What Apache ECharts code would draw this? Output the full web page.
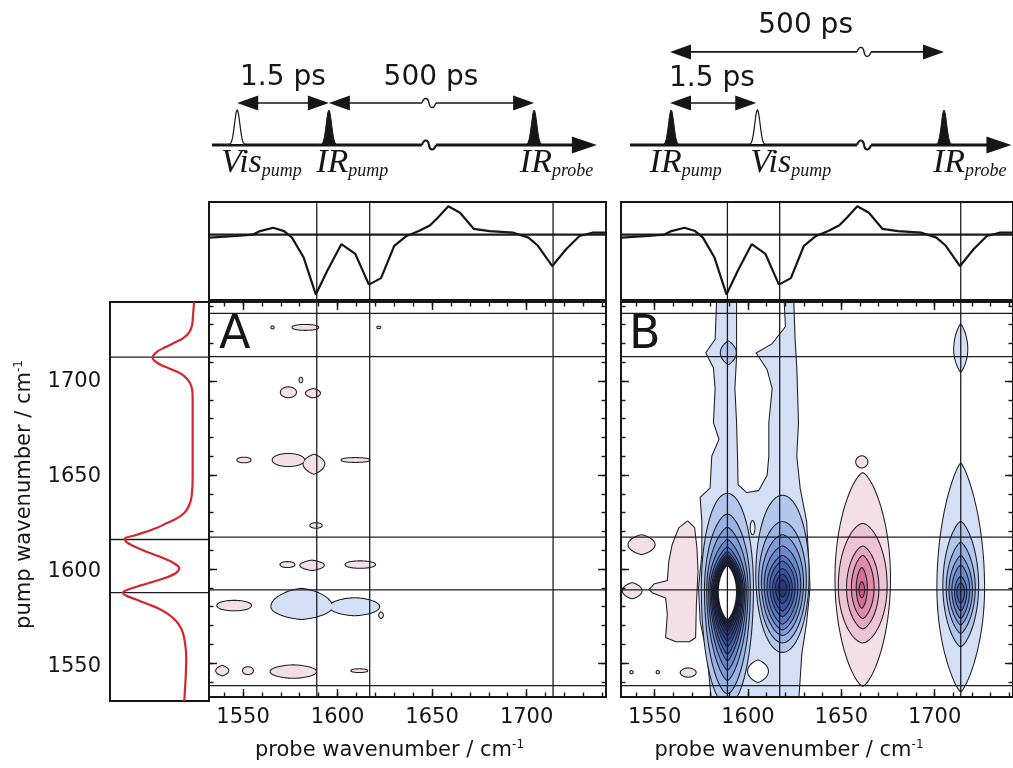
<!DOCTYPE html>
<html>
<head>
<meta charset="utf-8">
<title>2D-IR maps</title>
<script src="https://cdn.jsdelivr.net/npm/echarts@6/dist/echarts.min.js"></script>
<style>
  html, body { margin: 0; padding: 0; background: #fff; }
  #main { width: 1013px; height: 768px; }
</style>
</head>
<body>
<div id="main"></div>
<script>
// wavenumber scale shared by the maps and the side spectra (cm-1)
var waveMin = 1532, waveMax = 1742;
var waveLabels = [1550, 1600, 1650, 1700];
var waveMinor = [1540, 1550, 1560, 1570, 1580, 1590, 1600, 1610, 1620, 1630, 1640,
                 1650, 1660, 1670, 1680, 1690, 1700, 1710, 1720, 1730, 1740];

// guide lines
var probeMarks = [1589, 1617, 1714];
var pumpMarks = [1589, 1617, 1713];
var pumpEdges = [1538, 1736];

// top: transient spectrum (probe axis)
var specProbe = [1532, 1546.6, 1555, 1559, 1566, 1571.7, 1575.9, 1582, 1588.5, 1594.7, 1602,
                 1609.4, 1616.6, 1623, 1630, 1636.5, 1643, 1649, 1653, 1658.6, 1664.8, 1672,
                 1680.4, 1693, 1701, 1706, 1713.6, 1721, 1728, 1734.7, 1742];
var specDiff = [-0.09, -0.04, 0, 0.11, 0.21, 0.11, -0.09, -0.69, -1.83, -1.09, -0.29,
                -0.59, -1.53, -1.33, -0.34, -0.04, 0.11, 0.29, 0.52, 0.87, 0.67, 0.18,
                0.11, 0.06, -0.09, -0.34, -0.96, -0.44, -0.04, 0.06, 0.06];

// left: IR absorption (pump axis)
var irPump = [1742, 1736, 1730, 1726, 1723, 1720.5, 1718, 1716, 1714, 1712.6, 1711, 1709,
              1707, 1705, 1703, 1700, 1696, 1690, 1670, 1650, 1640, 1635, 1631, 1628,
              1625.5, 1623, 1621, 1619, 1617.6, 1616, 1614, 1611, 1608, 1605, 1602, 1599.5,
              1597, 1595, 1593, 1591, 1589, 1587.5, 1585.5, 1583, 1581, 1578, 1574, 1570,
              1565, 1555, 1545, 1532];
var irAbs = [0.15, 0.16, 0.17, 0.2, 0.26, 0.35, 0.45, 0.52, 0.56, 0.57, 0.55, 0.49,
             0.4, 0.31, 0.25, 0.2, 0.17, 0.165, 0.165, 0.165, 0.175, 0.2, 0.25, 0.33,
             0.43, 0.53, 0.64, 0.76, 0.85, 0.84, 0.78, 0.65, 0.5, 0.37, 0.3, 0.33,
             0.43, 0.55, 0.68, 0.8, 0.87, 0.84, 0.74, 0.62, 0.52, 0.42, 0.33, 0.28,
             0.25, 0.23, 0.235, 0.25];

// contours: [probe, pump, half width, half height up, half height down, shape, level, depth]
var mapA = [
  [1565.6, 1728.5, 0.6, 0.5, 0.5, 0.5, 1, 1],
  [1583.0, 1728.5, 6.8, 1.3, 1.3, 0.5, 1, 1],
  [1621.8, 1728.5, 0.8, 0.4, 0.4, 0.5, 1, 1],
  [1574.0, 1694.0, 4.0, 2.6, 2.6, 0.5, 1, 1],
  [1587.0, 1693.5, 3.7, 2.2, 2.2, 0.8, 1, 1],
  [1580.6, 1700.5, 0.7, 1.2, 1.2, 0.6, 1, 1],
  [1550.5, 1658.0, 3.5, 1.2, 1.2, 0.5, 1, 1],
  [1574.0, 1658.0, 8.3, 3.2, 3.2, 0.5, 1, 1],
  [1587.5, 1656.0, 5.5, 4.8, 5.3, 0.9, 1, 1],
  [1609.5, 1658.0, 7.4, 1.0, 1.0, 0.5, 1, 1],
  [1588.6, 1623.2, 3.0, 1.2, 1.2, 0.5, 1, 1],
  [1573.5, 1602.4, 3.7, 1.3, 1.3, 0.5, 1, 1],
  [1586.5, 1602.0, 6.2, 2.5, 2.5, 0.9, 1, 1],
  [1612.0, 1602.4, 7.8, 1.7, 1.7, 0.5, 1, 1],
  [1545.3, 1580.6, 8.9, 2.5, 2.5, 0.5, 1, 1],
  [1581.0, 1580.0, 16.0, 9.5, 6.5, 0.7, -1, 1],
  [1609.0, 1580.0, 13.0, 4.5, 4.5, 0.6, -1, 1],
  [1623.0, 1575.5, 1.0, 1.5, 1.5, 0.8, 1, 1],
  [1539.0, 1546.0, 3.2, 2.5, 2.5, 0.9, 1, 1],
  [1552.6, 1546.0, 2.6, 1.8, 1.8, 0.5, 1, 1],
  [1576.6, 1545.5, 12.0, 3.3, 3.3, 0.6, 1, 1],
  [1611.5, 1546.0, 4.2, 0.7, 0.7, 0.5, 1, 1]
];

var mapB = [
  // bleach at 1589
  [1589, 1590, 13.7, 50, 62, 0.5, -2, 2],
  [1589, 1589, 12.0, 40, 55, 0.6, -3, 3],
  [1589, 1589, 10.8, 33, 48, 0.7, -4, 4],
  [1589, 1588.5, 9.8, 27, 42, 0.75, -5, 5],
  [1589, 1588.5, 9.0, 23, 37, 0.8, -6, 6],
  [1589, 1588, 8.3, 21, 33, 0.8, -7, 7],
  [1589, 1588, 7.7, 19.5, 29, 0.8, -8, 8],
  [1589, 1588, 7.2, 18.5, 26, 0.8, -9, 9],
  [1589, 1588, 6.7, 17.5, 23, 0.8, -10, 10],
  [1589, 1588, 6.2, 16.5, 20.5, 0.8, -11, 11],
  [1589, 1588, 5.8, 15.8, 18.5, 0.8, -12, 12],
  [1589, 1588, 5.4, 15.0, 17, 0.8, -13, 13],
  [1589, 1588, 5.0, 14.5, 15.8, 0.8, -14, 14],
  [1589, 1588, 4.6, 13.5, 14.5, 0.75, 0, 16],
  [1589.5, 1715, 4.0, 6, 6, 0.9, -2, 2],
  // bleach at 1617
  [1618.5, 1597, 14.0, 42, 41, 0.5, -2, 2],
  [1618.5, 1594, 12.5, 31, 33, 0.55, -3, 3],
  [1618.5, 1593, 11.0, 25, 28, 0.6, -4, 4],
  [1618.5, 1592, 9.5, 20, 24, 0.65, -5, 5],
  [1618.5, 1591, 8.0, 16, 20, 0.7, -6, 6],
  [1618.5, 1591, 6.5, 13, 16, 0.7, -7, 7],
  [1618.5, 1590, 5.0, 10, 12, 0.7, -8, 8],
  [1618.5, 1590, 3.5, 7, 8, 0.7, -9, 9],
  [1618.5, 1590, 2.0, 4, 4.5, 0.7, -10, 10],
  [1605.4, 1545.7, 5.3, 5.7, 5.7, 0.8, 0, 1.5],
  [1602.5, 1622, 1.0, 3.5, 3.5, 0.6, 0, 1.5],
  // bleach at 1713
  [1714, 1590, 12.5, 66, 55, 0.8, -1, 1],
  [1714, 1717, 3.5, 13, 12, 0.9, -1, 1],
  [1714, 1591, 9.3, 34, 32, 0.7, -2, 2],
  [1714, 1590, 7.5, 24, 24, 0.75, -3, 3],
  [1714, 1589, 6.0, 18, 18.5, 0.8, -4, 4],
  [1714, 1589, 4.5, 13, 15, 0.8, -5, 5],
  [1714, 1588, 3.0, 8, 10, 0.8, -6, 6],
  [1714, 1588, 1.8, 4.5, 6, 0.8, -7, 7],
  // induced absorption at 1660
  [1661.5, 1595, 14.6, 56, 57, 0.7, 1, 1],
  [1661, 1657, 3.0, 3, 3, 0.6, 1, 1],
  [1661.5, 1591, 12.8, 33, 30, 0.6, 2, 2],
  [1661.5, 1590, 8.4, 22, 21.5, 0.65, 3, 3],
  [1661.5, 1590, 5.8, 17, 16, 0.7, 4, 4],
  [1661, 1590, 2.7, 10.5, 10.5, 0.7, 5, 5],
  [1661, 1589, 1.2, 4, 4, 0.7, 6, 6],
  // small features left
  [1543, 1613, 7, 5, 5, 0.8, 1, 1],
  [1538, 1588.5, 5, 4, 4, 0.8, 1, 1],
  [1568, 1545, 4, 2.2, 2.2, 0.6, 1, 1],
  [1537.6, 1545.2, 0.6, 0.6, 0.6, 0.5, 1, 1],
  [1551.7, 1545.2, 0.6, 0.6, 0.6, 0.5, 1, 1]
];

// irregular outlines in map B: [probe, pump] vertices
var blueColumnsB = [[1583.6, 1745], [1582.7, 1722], [1577.7, 1715], [1581.8, 1707], [1582.7, 1696],
  [1581.8, 1678], [1584.8, 1669], [1580.9, 1660], [1580, 1643], [1574.7, 1638], [1575.6, 1625],
  [1575.6, 1608], [1573.8, 1590], [1574.7, 1572], [1578.3, 1555], [1580.9, 1528],
  [1626.8, 1528], [1628.6, 1555], [1631.2, 1572], [1633, 1590], [1632.1, 1608], [1631.2, 1625],
  [1627.7, 1643], [1625.9, 1660], [1626.8, 1678], [1625.9, 1707], [1625, 1722], [1624.2, 1745]];
var gapB = [[1594.2, 1745], [1619, 1745], [1619.8, 1729], [1612.7, 1720], [1604, 1715], [1610, 1706],
  [1612.7, 1696], [1610.9, 1678], [1610.9, 1660], [1610, 1650], [1605.6, 1642], [1599.4, 1641],
  [1595, 1645], [1594.7, 1660], [1594.2, 1678], [1593.3, 1696], [1594.2, 1713], [1594.2, 1730]];
var pinkLeftB = [[1567.7, 1625.3], [1571.2, 1621.8], [1572.4, 1611.2], [1573, 1599], [1572.1, 1581.3],
  [1571.7, 1563.7], [1568.5, 1561.6], [1561.5, 1561.6], [1556.2, 1563.7], [1557.1, 1576],
  [1556.2, 1584.8], [1549.1, 1587.5], [1547.4, 1589.2], [1550, 1591.9], [1557.1, 1593.7],
  [1557.9, 1604.2], [1559.7, 1613], [1563.2, 1621.8]];

// pulse sequences (time in arbitrary units across each panel)
var seqAxisA = [0.75, 97.7, 55.4];
var seqAxisB = [2.3, 99.6, 62.0];
var pulseTimeA = [7.1, 30.2, 81.9];
var pulseIrA = [0, 1, 1];
var pulseTimeB = [12.8, 34.8, 82.4];
var pulseIrB = [1, 0, 1];
var tagPosA = [3.0, 27.0, 78.3];
var tagNameA = ['Vis', 'IR', 'IR'];
var tagSubA = ['pump', 'pump', 'probe'];
var tagPosB = [7.3, 33.0, 79.6];
var tagNameB = ['IR', 'Vis', 'IR'];
var tagSubB = ['pump', 'pump', 'probe'];
// from, to, height, break (-1 none), text x, text height
var delayA = [[7.1, 30.2, 1.2, -1, 18.6, 1.93], [30.2, 81.9, 1.2, 55.4, 55.9, 1.93]];
var delayB = [[12.5, 34.5, 1.2, -1, 23.2, 1.9], [12.5, 82.4, 2.66, 62.0, 47.1, 3.42]];
var delayText = ['1.5 ps', '500 ps'];

var ink = '#161616';
var lineInk = '#1c1c26';
var negColors = ['#ffffff', '#d3dff4', '#b3c7ec', '#98b2e3', '#7f9dd9', '#6989cd', '#5676c0',
                 '#4664b1', '#3953a0', '#2e448e', '#26387c', '#1f2e6b', '#1a275d', '#162151', '#131c46'];
var posColors = ['#ffffff', '#f5dfe7', '#efc4d2', '#e7a8bd', '#de8ca7', '#d47192', '#c8587e'];

function levelColor(lev) {
  if (lev > 0) return posColors[Math.min(lev, posColors.length - 1)];
  if (lev < 0) return negColors[Math.min(-lev, negColors.length - 1)];
  return '#ffffff';
}

function contourPair(pts, lev, depth) {
  var z = Math.round(depth * 10);
  return {
    type: 'group',
    children: [
      {type: 'polygon', z2: z, shape: {points: pts},
       style: {fill: 'none', stroke: lineInk, lineWidth: 2.1, lineJoin: 'round'}},
      {type: 'polygon', z2: z + 1, shape: {points: pts},
       style: {fill: levelColor(lev), stroke: 'none'}}
    ]
  };
}

function lensItem(params, api) {
  var cx = api.value(0), cy = api.value(1), rx = api.value(2);
  var up = api.value(3), dn = api.value(4), q = api.value(5);
  var pts = [];
  for (var k = 0; k < 96; k++) {
    var t = k / 96 * 2 * Math.PI;
    var c = Math.cos(t), s = Math.sin(t);
    var dx = rx * (c < 0 ? -1 : 1) * Math.pow(Math.abs(c), 2 * q);
    var dy = s > 0 ? up * s : dn * s;
    pts.push(api.coord([cx + dx, cy + dy]));
  }
  return contourPair(pts, api.value(6), api.value(7));
}

function outlineSeries(axis, verts, lev, depth) {
  return {
    type: 'custom', xAxisIndex: axis, yAxisIndex: axis, clip: true, z: 2,
    data: verts,
    renderItem: function (params, api) {
      if (params.dataIndex !== 0) return null;
      var pts = verts.map(function (v) { return api.coord(v); });
      return contourPair(pts, lev, depth);
    }
  };
}

function guideItem(params, api) {
  var cs = params.coordSys, dir = api.value(0), v = api.value(1), w = api.value(2);
  if (dir === 2) {
    return {type: 'rect', shape: {x: cs.x, y: cs.y, width: cs.width, height: cs.height},
            style: {fill: 'none', stroke: ink, lineWidth: w}};
  }
  var p = api.coord([v, v]);
  if (dir === 0) {
    return {type: 'line', shape: {x1: p[0], y1: cs.y, x2: p[0], y2: cs.y + cs.height},
            style: {stroke: lineInk, lineWidth: w}};
  }
  return {type: 'line', shape: {x1: cs.x, y1: p[1], x2: cs.x + cs.width, y2: p[1]},
          style: {stroke: lineInk, lineWidth: w}};
}

function guideSeries(xi, yi, rows) {
  return {type: 'custom', xAxisIndex: xi, yAxisIndex: yi, z: 3, data: rows, renderItem: guideItem};
}

function wiggle(x, y, w) {
  return [
    {type: 'rect', shape: {x: x - 7, y: y - 3, width: 14, height: 6}, style: {fill: '#fff'}},
    {type: 'bezierCurve', shape: {x1: x - 7, y1: y, cpx1: x - 5, cpy1: y - 6, cpx2: x - 1, cpy2: y - 6, x2: x, y2: y},
     style: {stroke: ink, lineWidth: w, fill: 'none'}},
    {type: 'bezierCurve', shape: {x1: x, y1: y, cpx1: x + 1, cpy1: y + 6, cpx2: x + 5, cpy2: y + 6, x2: x + 7, y2: y},
     style: {stroke: ink, lineWidth: w, fill: 'none'}}
  ];
}

function seqSeries(axis, line, times, isIr, tagPos, tagName, tagSub, delays) {
  var list = [];
  list.push({
    type: 'custom', xAxisIndex: axis, yAxisIndex: axis, z: 3, data: [line],
    renderItem: function (params, api) {
      var a = api.coord([api.value(0), 0]), b = api.coord([api.value(1), 0]);
      var k = api.coord([api.value(2), 0]);
      var y = a[1];
      var kids = [
        {type: 'line', shape: {x1: a[0], y1: y, x2: b[0] - 20, y2: y}, style: {stroke: ink, lineWidth: 3}},
        {type: 'polygon', shape: {points: [[b[0], y], [b[0] - 25, y - 8.5], [b[0] - 25, y + 8.5]]}, style: {fill: ink}}
      ];
      return {type: 'group', children: kids.concat(wiggle(k[0], y, 2.2))};
    }
  });
  list.push({
    type: 'custom', xAxisIndex: axis, yAxisIndex: axis, z: 4,
    data: times.map(function (t, i) { return [t, isIr[i]]; }),
    renderItem: function (params, api) {
      var base = api.coord([api.value(0), 0]), top = api.coord([api.value(0), 1]);
      var h = base[1] - top[1], pts = [];
      for (var i = -14; i <= 14; i++) {
        var dx = i * 0.55;
        pts.push([base[0] + dx, base[1] - h * Math.exp(-dx * dx / 14)]);
      }
      var ir = api.value(1) === 1;
      return {type: 'polygon', shape: {points: pts},
              style: ir ? {fill: ink, stroke: ink, lineWidth: 1} : {fill: '#fff', stroke: ink, lineWidth: 1.2}};
    }
  });
  list.push({
    type: 'custom', xAxisIndex: axis, yAxisIndex: axis, z: 4,
    data: tagPos.map(function (x) { return [x, -0.03]; }),
    renderItem: function (params, api) {
      var p = api.coord([api.value(0), api.value(1)]);
      var i = params.dataIndex;
      return {type: 'text', style: {
        x: p[0], y: p[1], align: 'left', verticalAlign: 'top',
        text: '{m|' + tagName[i] + '}{s|' + tagSub[i] + '}',
        rich: {
          m: {fontFamily: 'Liberation Serif', fontStyle: 'italic', fontSize: 34, lineHeight: 34, fill: ink},
          s: {fontFamily: 'Liberation Serif', fontStyle: 'italic', fontSize: 18, lineHeight: 10,
              verticalAlign: 'bottom', fill: ink}
        }
      }};
    }
  });
  list.push({
    type: 'custom', xAxisIndex: axis, yAxisIndex: axis, z: 4, data: delays,
    renderItem: function (params, api) {
      var a = api.coord([api.value(0), api.value(2)]), b = api.coord([api.value(1), api.value(2)]);
      var y = a[1], L = 21, W = 7.5;
      var kids = [
        {type: 'line', shape: {x1: a[0] + L - 2, y1: y, x2: b[0] - L + 2, y2: y}, style: {stroke: ink, lineWidth: 1.6}},
        {type: 'polygon', shape: {points: [[a[0], y], [a[0] + L, y - W], [a[0] + L, y + W]]}, style: {fill: ink}},
        {type: 'polygon', shape: {points: [[b[0], y], [b[0] - L, y - W], [b[0] - L, y + W]]}, style: {fill: ink}}
      ];
      if (api.value(3) > 0) kids = kids.concat(wiggle(api.coord([api.value(3), 0])[0], y, 1.4));
      var t = api.coord([api.value(4), api.value(5)]);
      kids.push({type: 'text', style: {x: t[0], y: t[1], text: delayText[params.dataIndex],
        fontFamily: 'DejaVu Sans', fontSize: 28, fill: ink, align: 'center', verticalAlign: 'middle'}});
      return {type: 'group', children: kids};
    }
  });
  return list;
}

function plainNumber(v) { return String(v); }

function hiddenAxis(gi, min, max, inverse) {
  return {type: 'value', gridIndex: gi, min: min, max: max, inverse: !!inverse, show: false,
          axisLine: {onZero: false}};
}

function waveAxis(gi, pos, major, label, name, shift) {
  var ax = {
    type: 'value', gridIndex: gi, position: pos, min: waveMin, max: waveMax, z: 5,
    axisLine: {show: false, onZero: false},
    splitLine: {show: false},
    axisTick: {show: true, inside: true, length: major ? 8 : 4.5,
               customValues: major ? waveLabels : waveMinor,
               lineStyle: {color: ink, width: 1.4}},
    axisLabel: {show: !!label, customValues: waveLabels, formatter: plainNumber, margin: 10,
                color: ink, fontFamily: 'DejaVu Sans', fontSize: 21}
  };
  if (name) {
    ax.name = name;
    ax.nameLocation = 'middle';
    ax.nameGap = 42;
    ax.nameTextStyle = {
      fontFamily: 'DejaVu Sans', fontSize: 21, color: ink, lineHeight: 24, padding: [0, shift, 0, 0],
      rich: {sup: {fontFamily: 'DejaVu Sans', fontSize: 12, lineHeight: 12, verticalAlign: 'top', color: ink}}
    };
  }
  return ax;
}

function mapAxes(gi, isX, name, shift) {
  var p1 = isX ? 'bottom' : 'left', p2 = isX ? 'top' : 'right';
  return [
    waveAxis(gi, p1, true, isX, isX ? name : null, shift),
    waveAxis(gi, p1, false),
    waveAxis(gi, p2, true),
    waveAxis(gi, p2, false)
  ];
}

var probeName = 'probe wavenumber / cm{sup|-1}';

var xAxes = [
  hiddenAxis(0, 0, 100), hiddenAxis(1, 0, 100),
  hiddenAxis(2, waveMin, waveMax), hiddenAxis(3, waveMin, waveMax),
  hiddenAxis(4, 0, 1, true)
].concat(mapAxes(5, true, probeName, 36), mapAxes(6, true, probeName, 56));

var yAxes = [
  hiddenAxis(0, -1.3, 4.1), hiddenAxis(1, -1.3, 4.1),
  hiddenAxis(2, -2, 1), hiddenAxis(3, -2, 1),
  {
    type: 'value', gridIndex: 4, position: 'left', min: waveMin, max: waveMax,
    axisLine: {show: false, onZero: false}, axisTick: {show: false}, splitLine: {show: false},
    axisLabel: {customValues: waveLabels, formatter: plainNumber, margin: 9, color: ink,
                fontFamily: 'DejaVu Sans', fontSize: 21},
    name: 'pump wavenumber / cm{sup|-1}', nameLocation: 'middle', nameRotate: 90, nameGap: 73,
    nameTextStyle: {
      fontFamily: 'DejaVu Sans', fontSize: 21, color: ink, lineHeight: 24, padding: [0, 0, 0, 14],
      rich: {sup: {fontFamily: 'DejaVu Sans', fontSize: 12, lineHeight: 12, verticalAlign: 'top', color: ink}}
    }
  }
].concat(mapAxes(5, false), mapAxes(6, false));

var specData = specProbe.map(function (p, i) { return [p, specDiff[i]]; });
var irData = irPump.map(function (p, i) { return [irAbs[i], p]; });

var specGuides = probeMarks.map(function (v) { return [0, v, 1.3]; }).concat([[1, 0, 2.2], [2, 0, 2]]);
var irGuides = pumpMarks.map(function (v) { return [1, v, 1.3]; }).concat([[2, 0, 2]]);
var mapGuides = probeMarks.map(function (v) { return [0, v, 1.3]; })
  .concat(pumpMarks.concat(pumpEdges).map(function (v) { return [1, v, 1.3]; }), [[2, 0, 2]]);

var series = []
  .concat(seqSeries(0, seqAxisA, pulseTimeA, pulseIrA, tagPosA, tagNameA, tagSubA, delayA))
  .concat(seqSeries(1, seqAxisB, pulseTimeB, pulseIrB, tagPosB, tagNameB, tagSubB, delayB))
  .concat([
    {type: 'line', xAxisIndex: 2, yAxisIndex: 2, data: specData, showSymbol: false, z: 4,
     lineStyle: {color: ink, width: 2.2}},
    guideSeries(2, 2, specGuides),
    {type: 'line', xAxisIndex: 3, yAxisIndex: 3, data: specData, showSymbol: false, z: 4,
     lineStyle: {color: ink, width: 2.2}},
    guideSeries(3, 3, specGuides),
    {type: 'line', xAxisIndex: 4, yAxisIndex: 4, data: irData, showSymbol: false, z: 4,
     smooth: 0.3, lineStyle: {color: '#d4262c', width: 2.2}},
    guideSeries(4, 4, irGuides),
    {type: 'custom', xAxisIndex: 5, yAxisIndex: 5, clip: true, z: 2, data: mapA, renderItem: lensItem},
    guideSeries(5, 5, mapGuides),
    outlineSeries(9, blueColumnsB, -1, 1),
    outlineSeries(9, gapB, 0, 1.5),
    outlineSeries(9, pinkLeftB, 1, 1),
    {type: 'custom', xAxisIndex: 9, yAxisIndex: 9, clip: true, z: 2, data: mapB, renderItem: lensItem},
    guideSeries(9, 9, mapGuides)
  ]);

var chart = echarts.init(document.getElementById('main'));
chart.setOption({
  animation: false,
  backgroundColor: '#ffffff',
  textStyle: {fontFamily: 'DejaVu Sans'},
  title: [
    {text: 'A', left: 219, top: 313, padding: 0,
     textStyle: {fontFamily: 'DejaVu Sans', fontSize: 46, fontWeight: 'normal', color: ink}},
    {text: 'B', left: 629, top: 313, padding: 0,
     textStyle: {fontFamily: 'DejaVu Sans', fontSize: 46, fontWeight: 'normal', color: ink}}
  ],
  grid: [
    {left: 209, top: 1.5, width: 397, height: 189},
    {left: 621, top: 1.5, width: 397, height: 189},
    {left: 209, top: 202, width: 397, height: 98},
    {left: 621, top: 202, width: 397, height: 98},
    {left: 110, top: 302, width: 99, height: 399},
    {left: 209, top: 302, width: 397, height: 399},
    {left: 621, top: 302, width: 397, height: 399}
  ],
  xAxis: xAxes,
  yAxis: yAxes,
  series: series
});
</script>
</body>
</html>
